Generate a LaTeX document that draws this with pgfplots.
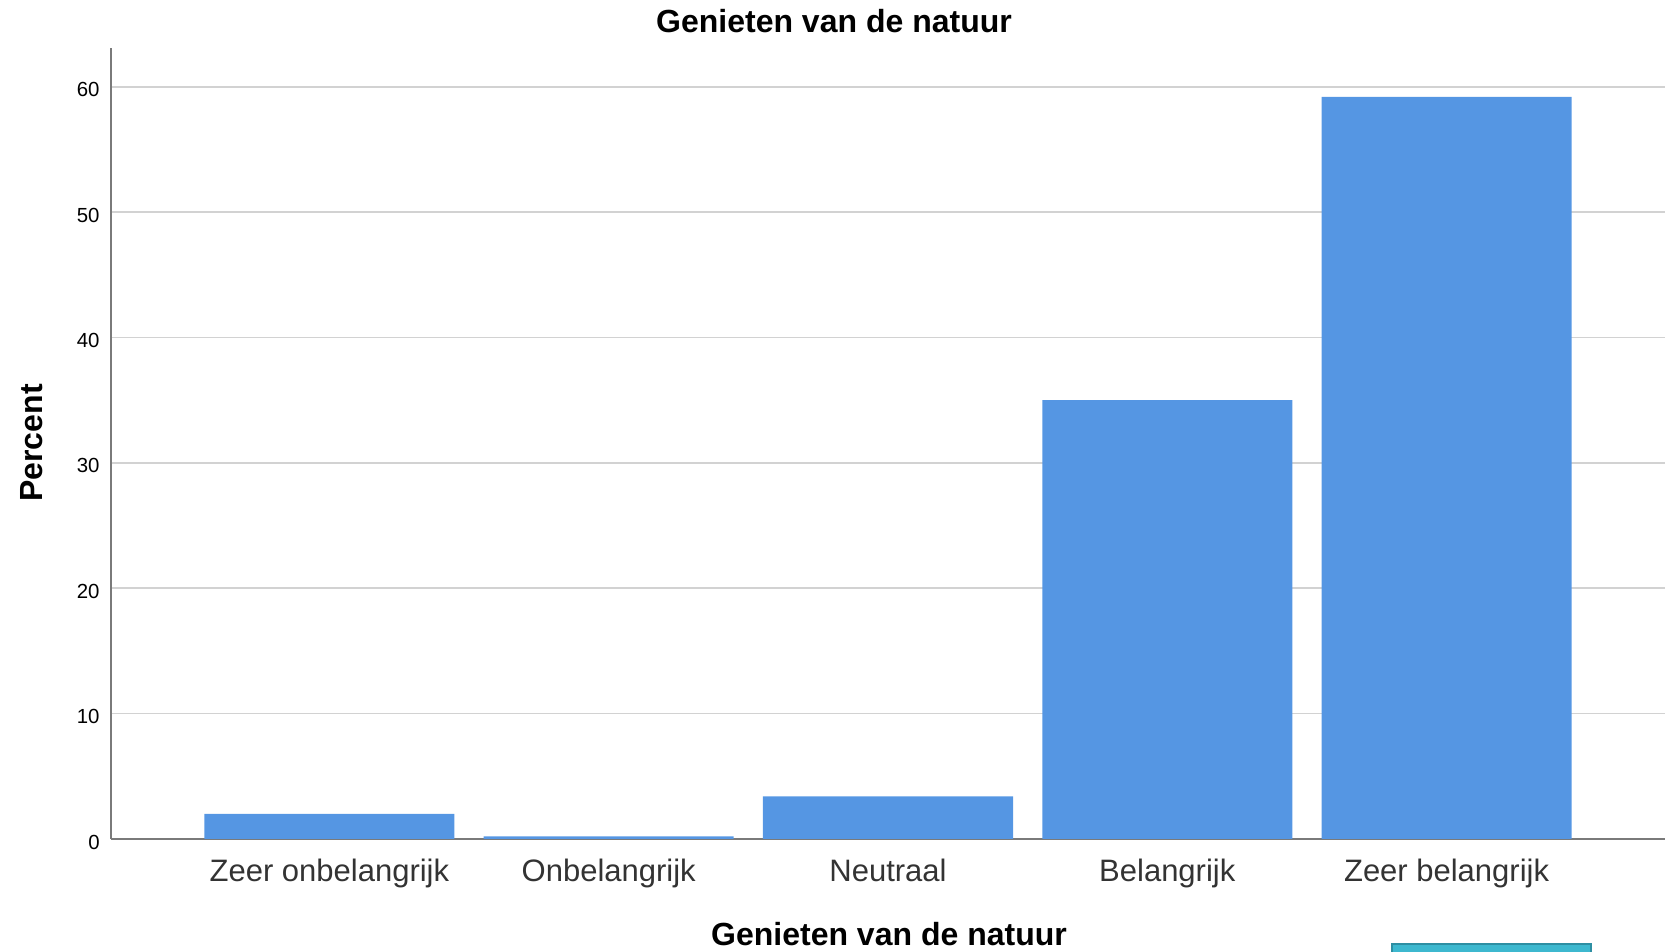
\documentclass[border=0pt]{standalone}
\usepackage{pgfplots}
\pgfplotsset{compat=1.18}
\usepackage{fontspec}
\setmainfont{Liberation Sans}
\definecolor{barblue}{HTML}{5596E3}
\definecolor{gridgray}{HTML}{D2D2D2}
\definecolor{axisgray}{HTML}{7A7A7A}
\definecolor{boxteal}{HTML}{3DB8CF}
\definecolor{boxedge}{HTML}{2E8FA3}
\begin{document}
\begin{tikzpicture}
% 1 px of the reference = 0.5pt; axis origin sits at px (111,839)
\useasboundingbox (-55.5pt,-56.5pt) rectangle (783.5pt,419.5pt);
\begin{axis}[
    at={(0pt,0pt)}, anchor=south west,
    scale only axis,
    width=777pt, height=395.5pt,
    ybar, bar width=125pt,
    xmin=-0.782, xmax=4.782,
    ymin=0, ymax=63.1,
    xtick={0,1,2,3,4},
    xticklabels={Zeer onbelangrijk, Onbelangrijk, Neutraal, Belangrijk, Zeer belangrijk},
    ytick={0,10,20,30,40,50,60},
    axis lines*=left,
    axis line style={draw=axisgray, line width=1pt},
    major tick length=0pt,
    ymajorgrids,
    grid style={gridgray, line width=0.8pt},
    x tick label style={font=\fontsize{15.5}{18}\selectfont, text=black!80, anchor=base, yshift=-21.5pt},
    y tick label style={font=\fontsize{10.2}{12}\selectfont, anchor=east, inner sep=0pt, xshift=-5.5pt, yshift=-1.5pt},
    /pgf/number format/assume math mode=true,
]
\addplot[fill=barblue, draw=none] coordinates {(0,2.0) (1,0.2) (2,3.4) (3,35.0) (4,59.2)};
\end{axis}
\node[anchor=base, font=\fontsize{16}{19}\selectfont\bfseries] at (361.5pt,403pt) {Genieten van de natuur};
\node[anchor=base, font=\fontsize{16}{19}\selectfont\bfseries] at (389pt,-53.5pt) {Genieten van de natuur};
\node[rotate=90, font=\fontsize{16}{19}\selectfont\bfseries] at (-39.5pt,198pt) {Percent};
\filldraw[fill=boxteal, draw=boxedge, line width=0.6pt] (640.5pt,-52.5pt) rectangle (740pt,-60pt);
\end{tikzpicture}
\end{document}
